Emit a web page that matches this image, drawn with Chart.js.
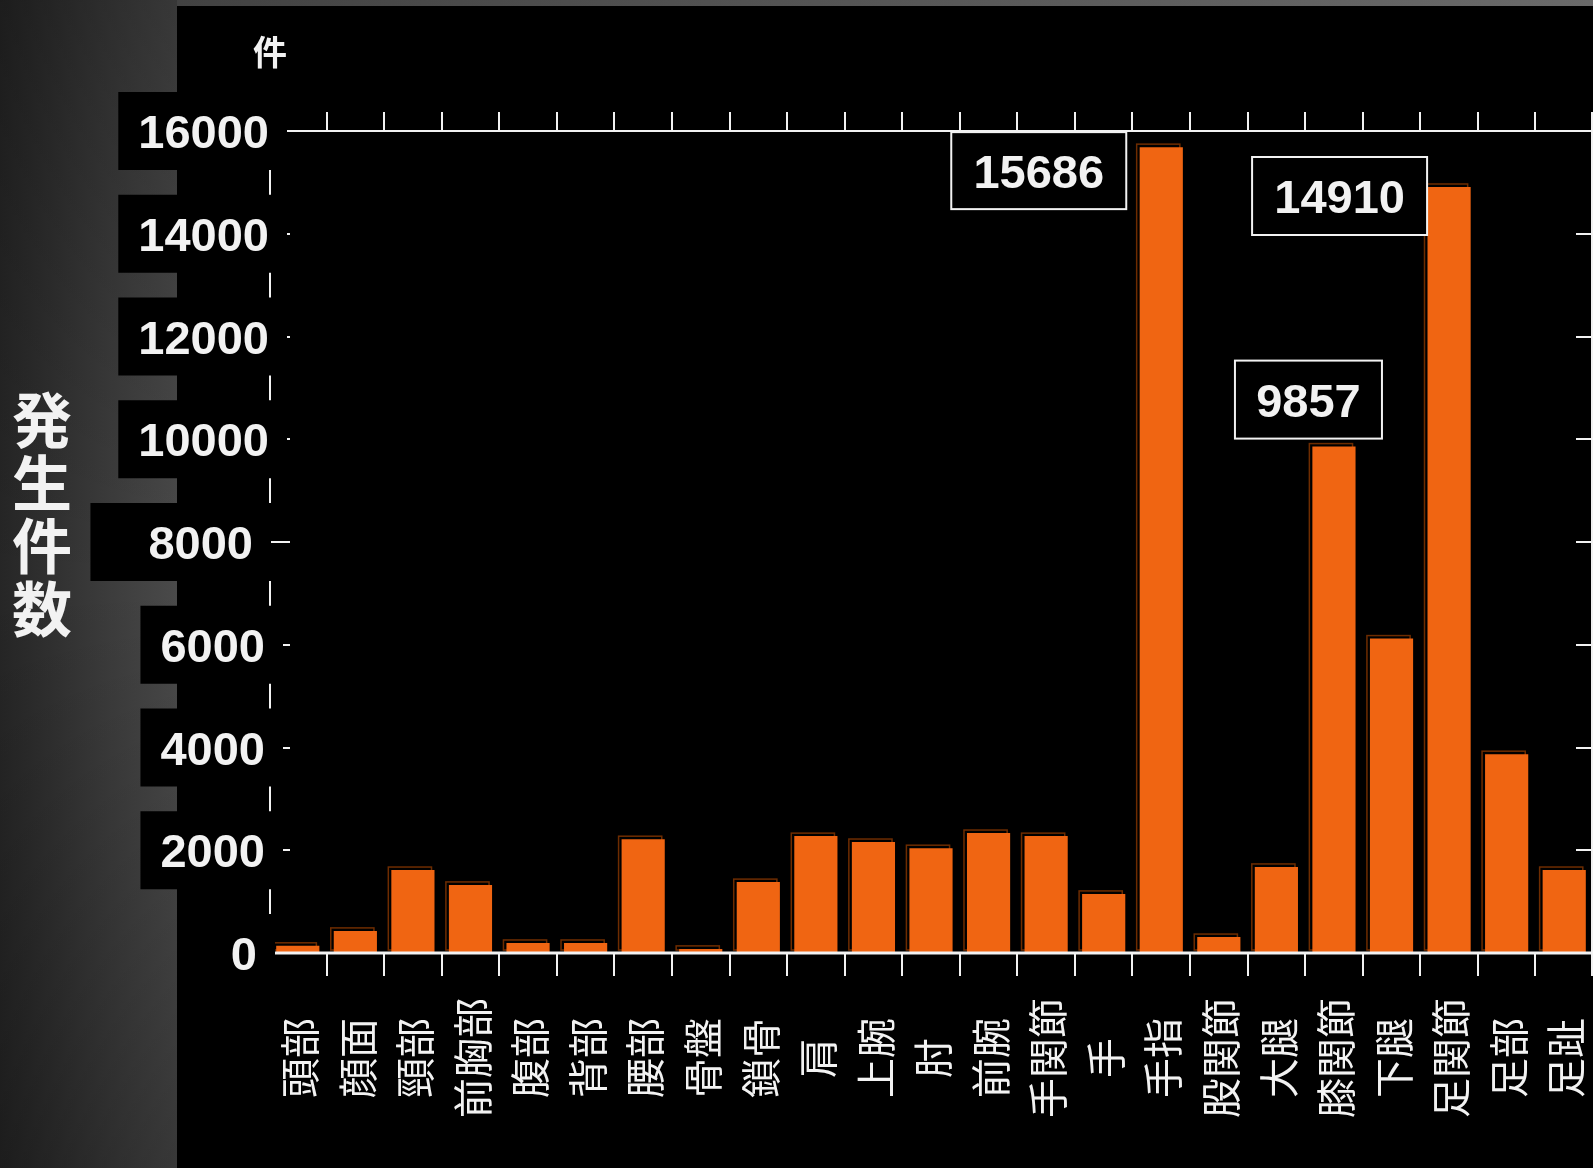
<!DOCTYPE html>
<html lang="ja">
<head>
<meta charset="utf-8">
<title>部位別 発生件数</title>
<script src="https://cdn.jsdelivr.net/npm/chart.js@4/dist/chart.umd.min.js"></script>
<style>
  html, body { margin: 0; padding: 0; background: #000; overflow: hidden; }
  #wrap { width: 1593px; height: 1168px; }
  canvas { display: block; }
</style>
</head>
<body>
<div id="wrap"><canvas id="chart" width="1593" height="1168"></canvas></div>
<script>
// 部位別の発生件数
const categories = ['頭部', '顔面', '頸部', '前胸部', '腹部', '背部', '腰部', '骨盤', '鎖骨',
  '肩', '上腕', '肘', '前腕', '手関節', '手', '手指', '股関節', '大腿', '膝関節', '下腿',
  '足関節', '足部', '足趾'];
const counts = [140, 430, 1615, 1325, 195, 195, 2215, 80, 1380,
  2275, 2160, 2040, 2335, 2275, 1150, 15686, 310, 1675, 9857, 6120,
  14910, 3870, 1615];
const yTicks = [0, 2000, 4000, 6000, 8000, 10000, 12000, 14000, 16000];
const calloutBars = ['手指', '膝関節', '足関節'];
const unitLabel = '件';
const axisTitle = '発生件数';

// ---- look & layout ----
const W = 1593, H = 1168;
const PANEL_X = 177, STRIP_Y = 6;
const WHITE = '#f2f2f2';
const BAR = '#f06512';
const BAR_EDGE = '#6e2c00';
const NUM_FONT = 'bold 47px "Liberation Sans", Arial, sans-serif';
const CJK_FONT = '40px "Noto Sans CJK JP", sans-serif';

// callout boxes, placed relative to the top centre of their bar
const calloutLayout = {
  '手指':   { dx: -210, dy: -15, w: 175, h: 77 },
  '膝関節': { dx: -99,  dy: -86, w: 147, h: 78 },
  '足関節': { dx: -197, dy: -30, w: 175, h: 78 }
};

// value-axis label placement (right edge of the text, box padding)
function yLabelPlacement(value, text) {
  if (value === 0) return { right: 257, padL: 20, padR: 18 };
  if (value === 8000) return { right: 253, padL: 58, padR: 18 };
  return { right: text.length >= 5 ? 269 : 265, padL: 20, padR: 18 };
}

const backdrop = {
  id: 'backdrop',
  beforeDraw(chart) {
    const ctx = chart.ctx;
    ctx.save();
    const g = ctx.createLinearGradient(0, 0, PANEL_X, 0);
    g.addColorStop(0, '#262626');
    g.addColorStop(1, '#4a4a4a');
    ctx.fillStyle = g;
    ctx.fillRect(0, 0, W, H);
    const v = ctx.createLinearGradient(0, 0, 0, H);
    v.addColorStop(0, 'rgba(0,0,0,0.25)');
    v.addColorStop(0.5, 'rgba(0,0,0,0)');
    v.addColorStop(1, 'rgba(0,0,0,0.25)');
    ctx.fillStyle = v;
    ctx.fillRect(0, 0, PANEL_X, H);
    const t = ctx.createLinearGradient(PANEL_X, 0, W, 0);
    t.addColorStop(0, '#424242');
    t.addColorStop(1, '#6a6a6a');
    ctx.fillStyle = t;
    ctx.fillRect(PANEL_X, 0, W - PANEL_X, STRIP_Y);
    ctx.fillStyle = '#000';
    ctx.fillRect(PANEL_X, STRIP_Y, W - PANEL_X, H - STRIP_Y);
    ctx.restore();
  },
  beforeDatasetsDraw(chart) {
    // thin dark edge offset up-left behind every bar
    const ctx = chart.ctx;
    const meta = chart.getDatasetMeta(0);
    ctx.save();
    ctx.strokeStyle = BAR_EDGE;
    ctx.lineWidth = 1.5;
    meta.data.forEach(bar => {
      const p = bar.getProps(['x', 'y', 'base', 'width'], true);
      ctx.strokeRect(p.x - p.width / 2 - 3, p.y - 3, p.width, p.base - p.y);
    });
    ctx.restore();
  },
  afterDatasetsDraw(chart) {
    const ctx = chart.ctx;
    const xs = chart.scales.x, ys = chart.scales.y;
    const yTop = ys.getPixelForValue(yTicks[yTicks.length - 1]);
    const yBase = ys.getPixelForValue(0);
    const left = 270, right = W - 1;
    const n = categories.length;
    const bounds = [];
    for (let i = 1; i < n; i++) {
      bounds.push((xs.getPixelForValue(i - 1) + xs.getPixelForValue(i)) / 2);
    }
    ctx.save();
    ctx.strokeStyle = WHITE;
    ctx.lineCap = 'butt';

    // frame lines
    ctx.lineWidth = 2;
    ctx.beginPath();
    ctx.moveTo(left, yTop); ctx.lineTo(left, yBase);
    ctx.moveTo(right, yTop); ctx.lineTo(right, yBase);
    ctx.moveTo(left, yTop); ctx.lineTo(W, yTop);
    ctx.stroke();
    ctx.lineWidth = 3;
    ctx.beginPath();
    ctx.moveTo(left, yBase); ctx.lineTo(W, yBase);
    ctx.stroke();

    // category ticks: up from the top line, down from the base line
    ctx.lineWidth = 2;
    ctx.beginPath();
    bounds.forEach(bx => {
      const x = Math.round(bx);
      ctx.moveTo(x, yTop); ctx.lineTo(x, yTop - 19);
      ctx.moveTo(x, yBase); ctx.lineTo(x, yBase + 23);
    });
    ctx.moveTo(right, yTop); ctx.lineTo(right, yTop - 19);
    ctx.moveTo(right, yBase); ctx.lineTo(right, yBase + 23);
    // value ticks, pointing inward on both sides
    yTicks.forEach(v => {
      const y = Math.round(ys.getPixelForValue(v));
      ctx.moveTo(left, y); ctx.lineTo(left + 20, y);
      ctx.moveTo(right, y); ctx.lineTo(right - 16, y);
    });
    ctx.stroke();

    // value labels on black plates
    ctx.font = NUM_FONT;
    ctx.textAlign = 'right';
    ctx.textBaseline = 'alphabetic';
    yTicks.forEach(v => {
      const text = String(v);
      const y = ys.getPixelForValue(v);
      const pl = yLabelPlacement(v, text);
      const w = ctx.measureText(text).width;
      ctx.fillStyle = '#000';
      ctx.fillRect(pl.right - w - pl.padL, y - 39, w + pl.padL + pl.padR, 78);
      ctx.fillStyle = WHITE;
      ctx.fillText(text, pl.right, y + 17);
    });

    // category labels, rotated
    ctx.font = CJK_FONT;
    ctx.textAlign = 'center';
    ctx.textBaseline = 'middle';
    ctx.fillStyle = WHITE;
    categories.forEach((c, i) => {
      ctx.save();
      ctx.translate(xs.getPixelForValue(i), 1058);
      ctx.rotate(-Math.PI / 2);
      ctx.fillText(c, 0, 2);
      ctx.restore();
    });

    // value callouts
    const meta = chart.getDatasetMeta(0);
    ctx.font = NUM_FONT;
    ctx.textAlign = 'center';
    ctx.textBaseline = 'alphabetic';
    calloutBars.forEach(name => {
      const i = categories.indexOf(name);
      const bar = meta.data[i];
      const L = calloutLayout[name];
      const bx = bar.x + L.dx, by = bar.y + L.dy;
      ctx.fillStyle = '#000';
      ctx.fillRect(bx, by, L.w, L.h);
      ctx.lineWidth = 2;
      ctx.strokeStyle = WHITE;
      ctx.strokeRect(bx, by, L.w, L.h);
      ctx.fillStyle = WHITE;
      ctx.fillText(String(counts[i]), bx + L.w / 2, by + L.h / 2 + 17);
    });

    // unit and axis title
    ctx.textAlign = 'center';
    ctx.textBaseline = 'middle';
    ctx.font = 'bold 34px "Noto Sans CJK JP", sans-serif';
    ctx.fillText(unitLabel, 270, 52);
    ctx.font = 'bold 60px "Noto Sans CJK JP", sans-serif';
    [...axisTitle].forEach((ch, k) => {
      ctx.fillText(ch, 42, 420 + k * 63);
    });
    ctx.restore();
  }
};

new Chart(document.getElementById('chart'), {
  type: 'bar',
  data: {
    labels: categories,
    datasets: [{
      label: '発生件数',
      data: counts,
      backgroundColor: BAR,
      borderWidth: 0,
      barPercentage: 0.75,
      categoryPercentage: 1.0
    }]
  },
  options: {
    responsive: false,
    animation: false,
    devicePixelRatio: 1,
    events: [],
    layout: { padding: { left: 269, right: 0, top: 131, bottom: 215 } },
    plugins: { legend: { display: false }, tooltip: { enabled: false } },
    scales: {
      x: { type: 'category', display: false, offset: true },
      y: { display: false, min: 0, max: 16000, ticks: { stepSize: 2000 } }
    }
  },
  plugins: [backdrop]
});
</script>
</body>
</html>
